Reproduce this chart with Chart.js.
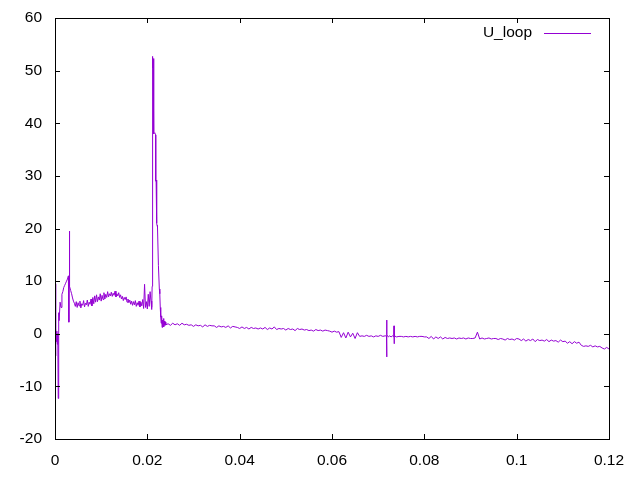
<!DOCTYPE html>
<html>
<head>
<meta charset="utf-8">
<script src="https://cdn.jsdelivr.net/npm/chart.js@4/dist/chart.umd.min.js"></script>
<style>
  html, body { margin: 0; padding: 0; background: #fff; }
</style>
</head>
<body>
<canvas id="myChart" width="640" height="480"></canvas>
<script>
// tick labels
const xTicks = [0, 0.02, 0.04, 0.06, 0.08, 0.1, 0.12];
const yTicks = [-20, -10, 0, 10, 20, 30, 40, 50, 60];

// start-up transient
const timeA = [0, 0.0001, 0.0002, 0.0003, 0.0004, 0.0005, 0.0006, 0.0007, 0.0008, 0.0009,
  0.0011, 0.0013, 0.0015, 0.0017, 0.0019, 0.0021, 0.0023, 0.0025, 0.0027, 0.0029,
  0.003, 0.00305, 0.0031, 0.00315, 0.0032, 0.0034, 0.0036, 0.0038, 0.004];
const uA = [9.5, -4.2, 1, -1.5, 0.5, -2, 0, -12.3, 4, 2.5,
  6, 5, 7.5, 8, 8.8, 9.2, 9.6, 10, 10.4, 11,
  2.2, 10.8, 19.5, 10, 9, 8.2, 7.6, 6.8, 6.2];

// noisy plateau
const timeB = [0.0042, 0.0044, 0.0046, 0.0048, 0.005, 0.0052, 0.0054, 0.0056, 0.0058, 0.006,
  0.0062, 0.0064, 0.0066, 0.0068, 0.007, 0.0072, 0.0074, 0.0076, 0.0078, 0.008,
  0.0082, 0.0084, 0.0086, 0.0088, 0.009, 0.0092, 0.0094, 0.0096, 0.0098, 0.01,
  0.0102, 0.0104, 0.0106, 0.0108, 0.011, 0.0112, 0.0114, 0.0116, 0.0118, 0.012,
  0.0122, 0.0124, 0.0126, 0.0128, 0.013, 0.0132, 0.0134, 0.0136, 0.0138, 0.014,
  0.0142, 0.0144, 0.0146, 0.0148, 0.015, 0.0152, 0.0154, 0.0156, 0.0158, 0.016,
  0.0162, 0.0164, 0.0166, 0.0168, 0.017, 0.0172, 0.0174, 0.0176, 0.0178, 0.018,
  0.0182, 0.0184, 0.0186, 0.0188, 0.019, 0.0192, 0.0194, 0.0196, 0.0198, 0.02,
  0.0202, 0.0204, 0.0206];
const uB = [5.8, 5.2, 6.1, 5.0, 5.9, 5.3, 6.2, 4.9, 5.7, 5.4,
  6.3, 5.1, 5.8, 5.5, 6.4, 5.2, 6.0, 5.6, 6.6, 5.3,
  6.9, 5.7, 7.2, 6.0, 7.4, 6.1, 7.0, 6.4, 7.6, 6.2,
  7.3, 6.5, 7.8, 6.6, 7.5, 6.9, 8.0, 7.0, 7.6, 7.2,
  7.9, 7.1, 7.7, 7.3, 8.1, 7.0, 7.6, 7.2, 7.8, 6.9,
  7.4, 6.6, 7.1, 6.3, 6.9, 6.5, 7.0, 6.0, 6.6, 5.9,
  6.4, 5.6, 6.2, 5.4, 6.1, 5.5, 6.3, 5.2, 5.9, 5.4,
  6.2, 5.1, 6.0, 5.3, 6.5, 4.8, 9.4, 5.0, 6.1, 4.7,
  7.5, 5.2, 8.0];

// main spike
const timeC = [0.02085, 0.0209, 0.02095, 0.021, 0.02104, 0.02108, 0.02112, 0.02116, 0.0212, 0.02126,
  0.02132, 0.02138, 0.02144, 0.0216, 0.0218, 0.02182, 0.0219, 0.022, 0.02205, 0.0221,
  0.0222, 0.0224, 0.0226, 0.0227, 0.0228, 0.0229, 0.023, 0.0231, 0.0232, 0.0233,
  0.0234, 0.0235, 0.0236, 0.0237, 0.0238, 0.0239, 0.024];
const uC = [5.6, 4.6, 6.2, 5.0, 9.0, 52.7, 35.5, 52.4, 50.5, 52.1,
  49.0, 52.3, 38.0, 38.2, 37.8, 29.0, 29.2, 28.8, 21.0, 20.6,
  20.3, 13.0, 8.5, 7.6, 5.0, 3.2, 2.0, 3.4, 1.2, 2.6,
  1.5, 2.9, 1.3, 2.4, 1.6, 2.2, 1.7];

// slow decay
const timeD1 = [0.0245, 0.025, 0.0255, 0.026, 0.0265, 0.027, 0.0275, 0.028, 0.0285, 0.029,
  0.0295, 0.03, 0.0305, 0.031, 0.0315, 0.032, 0.0325, 0.033, 0.0335, 0.034,
  0.0345, 0.035, 0.0355, 0.036, 0.0365, 0.037, 0.0375, 0.038, 0.0385, 0.039,
  0.0395, 0.04, 0.0405, 0.041, 0.0415, 0.042, 0.0425, 0.043, 0.0435, 0.044,
  0.0445, 0.045, 0.0455, 0.046, 0.0465, 0.047, 0.0475, 0.048, 0.0485, 0.049,
  0.0495, 0.05, 0.0505, 0.051, 0.0515, 0.052, 0.0525, 0.053, 0.0535, 0.054,
  0.0545, 0.055, 0.0555, 0.056, 0.0565, 0.057, 0.0575, 0.058, 0.0585, 0.059];
const uD1 = [1.9, 1.6, 2.0, 1.7, 1.9, 1.6, 2.0, 1.7, 1.8, 1.6,
  1.7, 1.4, 1.7, 1.5, 1.6, 1.3, 1.7, 1.4, 1.6, 1.5,
  1.5, 1.2, 1.5, 1.3, 1.4, 1.2, 1.5, 1.1, 1.4, 1.3,
  1.2, 1.0, 1.3, 1.0, 1.2, 0.9, 1.2, 1.0, 1.1, 0.9,
  1.1, 0.9, 1.2, 0.8, 1.1, 0.9, 1.3, 0.8, 1.0, 0.9,
  1.0, 0.7, 1.0, 0.8, 0.9, 0.6, 1.0, 0.8, 0.9, 0.7,
  0.8, 0.6, 0.7, 0.5, 0.8, 0.6, 0.7, 0.5, 0.7, 0.6];

// step and small glitches
const timeD2 = [0.0595, 0.06, 0.0605, 0.061,
  0.0615, 0.062, 0.0625, 0.063, 0.0635, 0.064, 0.0645, 0.065, 0.0655, 0.066,
  0.0665, 0.067, 0.0675, 0.068, 0.0685, 0.069, 0.0695, 0.07, 0.0705, 0.071, 0.0715,
  0.0718, 0.07183, 0.07187, 0.0719, 0.0722, 0.0725, 0.0728, 0.0731, 0.0734, 0.07343,
  0.07347, 0.0735, 0.074, 0.0745];
const uD2 = [0.5, 0.3, 0.5, 0.3,
  0.4, -0.7, 0.2, -0.8, 0.3, -0.6, 0.1, -0.9, 0.2, -0.5,
  -0.4, -0.5, -0.3, -0.5, -0.4, -0.6, -0.4, -0.5, -0.3, -0.5, -0.4,
  -0.4, 2.6, -4.4, -0.2, -0.6, -0.4, -0.6, -0.4, -0.6, 1.5,
  -1.9, -0.4, -0.6, -0.5];

// drift to the end
const timeD3 = [0.075, 0.0755, 0.076, 0.0765, 0.077, 0.0775, 0.078, 0.0785, 0.079, 0.0795, 0.08,
  0.0805, 0.081, 0.0815, 0.082, 0.0825, 0.083, 0.0835, 0.084, 0.0845, 0.085,
  0.0855, 0.086, 0.0865, 0.087, 0.0875, 0.088, 0.0885, 0.089, 0.0895, 0.09,
  0.0905, 0.091, 0.0915, 0.092, 0.0925, 0.093, 0.0935, 0.094, 0.0945, 0.095,
  0.0955, 0.096, 0.0965, 0.097, 0.0975, 0.098, 0.0985, 0.099, 0.0995, 0.1,
  0.1005, 0.101, 0.1015, 0.102, 0.1025, 0.103, 0.1035, 0.104, 0.1045, 0.105,
  0.1055, 0.106, 0.1065, 0.107, 0.1075, 0.108, 0.1085, 0.109, 0.1095, 0.11,
  0.1105, 0.111, 0.1115, 0.112, 0.1125, 0.113, 0.1135, 0.114, 0.1145, 0.115,
  0.1155, 0.116, 0.1165, 0.117, 0.1175, 0.118, 0.1185, 0.119, 0.1195, 0.12];
const uD3 = [-0.5, -0.6, -0.5, -0.6, -0.5, -0.6, -0.5, -0.6, -0.5, -0.5, -0.6,
  -0.6, -0.9, -0.5, -1.0, -0.6, -0.9, -0.6, -1.0, -0.7, -0.9,
  -0.8, -0.9, -0.8, -1.0, -0.8, -0.9, -0.8, -1.0, -0.8, -0.9,
  -0.9, -0.8, 0.3, -1.0, -0.8, -1.0, -0.9, -0.8, -1.0, -0.9,
  -0.9, -1.1, -0.9, -1.0, -1.2, -0.9, -1.1, -1.0, -1.2, -0.9,
  -1.0, -1.3, -1.0, -1.4, -1.1, -1.3, -1.0, -1.5, -1.1, -1.3,
  -1.2, -1.4, -1.1, -1.5, -1.2, -1.4, -1.3, -1.6, -1.2, -1.5,
  -1.4, -1.8, -1.5, -1.9, -1.5, -1.8, -1.6, -2.2, -2.4, -2.3,
  -2.4, -2.2, -2.5, -2.3, -2.5, -2.4, -2.7, -2.9, -2.6, -2.9];

const timeAll = [].concat(timeA, timeB, timeC, timeD1, timeD2, timeD3);
const uAll = [].concat(uA, uB, uC, uD1, uD2, uD3);
const points = timeAll.map((t, i) => ({ x: t, y: uAll[i] }));

const FONT = { family: '"Liberation Sans", Arial, sans-serif', size: 15.5 };
const LINE_COLOR = '#9400d3';

// gnuplot-like frame with inward ticks on all four sides, plus key
const framePlugin = {
  id: 'frame',
  afterDraw(chart) {
    const { ctx, chartArea: a, scales } = chart;
    const tl = 5;
    ctx.save();
    ctx.strokeStyle = '#000';
    ctx.lineWidth = 1;
    ctx.beginPath();
    scales.x.ticks.forEach(t => {
      const px = Math.round(scales.x.getPixelForValue(t.value)) + 0.5;
      ctx.moveTo(px, a.bottom); ctx.lineTo(px, a.bottom - tl);
      ctx.moveTo(px, a.top); ctx.lineTo(px, a.top + tl);
    });
    scales.y.ticks.forEach(t => {
      const py = Math.round(scales.y.getPixelForValue(t.value)) + 0.5;
      ctx.moveTo(a.left, py); ctx.lineTo(a.left + tl, py);
      ctx.moveTo(a.right, py); ctx.lineTo(a.right - tl, py);
    });
    ctx.stroke();
    ctx.strokeRect(a.left + 0.5, a.top + 0.5, a.right - a.left, a.bottom - a.top);

    // key
    const label = chart.data.datasets[0].label;
    ctx.font = FONT.size + 'px ' + FONT.family;
    ctx.fillStyle = '#000';
    ctx.textAlign = 'right';
    ctx.textBaseline = 'middle';
    ctx.fillText(label, 532, 33);
    ctx.strokeStyle = LINE_COLOR;
    ctx.beginPath();
    ctx.moveTo(544, 33.5); ctx.lineTo(591, 33.5);
    ctx.stroke();
    ctx.restore();
  }
};

new Chart(document.getElementById('myChart').getContext('2d'), {
  type: 'line',
  data: {
    datasets: [{
      label: 'U_loop',
      data: points,
      borderColor: LINE_COLOR,
      backgroundColor: LINE_COLOR,
      borderWidth: 1,
      pointRadius: 0,
      tension: 0,
      fill: false
    }]
  },
  options: {
    responsive: false,
    animation: false,
    layout: { padding: { top: 18, right: 31, left: 0, bottom: 0 } },
    plugins: { legend: { display: false }, tooltip: { enabled: false } },
    scales: {
      x: {
        type: 'linear', min: 0, max: 0.12,
        afterBuildTicks: s => { s.ticks = xTicks.map(v => ({ value: v })); },
        afterFit: s => { s.height = 41; s.paddingLeft = 0; s.paddingRight = 0; },
        grid: { display: false, drawTicks: false },
        border: { display: false },
        ticks: {
          color: '#000', font: FONT, padding: 12, maxRotation: 0,
          callback: v => String(Number(v.toFixed(2)))
        }
      },
      y: {
        type: 'linear', min: -20, max: 60,
        afterBuildTicks: s => { s.ticks = yTicks.map(v => ({ value: v })); },
        afterFit: s => { s.width = 55; s.paddingTop = 0; s.paddingBottom = 0; },
        grid: { display: false, drawTicks: false },
        border: { display: false },
        ticks: { color: '#000', font: FONT, padding: 13 }
      }
    }
  },
  plugins: [framePlugin]
});
</script>
</body>
</html>
